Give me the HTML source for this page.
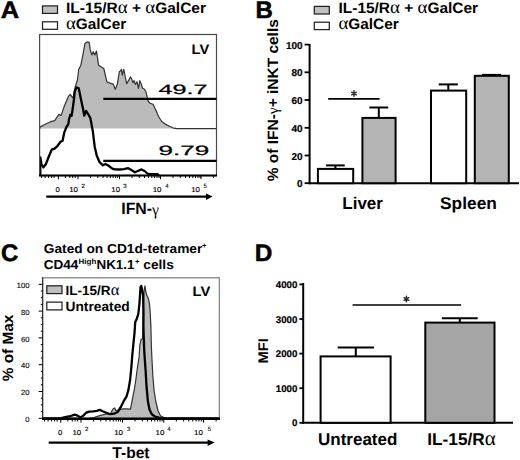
<!DOCTYPE html>
<html><head><meta charset="utf-8"><style>
html,body{margin:0;padding:0;background:#fff;width:520px;height:460px;overflow:hidden}
svg{display:block}
text{font-family:"Liberation Sans", sans-serif;fill:#000;text-rendering:geometricPrecision}
.big{font-size:24px;font-weight:bold;stroke:#000;stroke-width:0.5}
.leg{font-size:15px;font-weight:bold}
.legc{font-size:13.4px;font-weight:bold}
.gr{font-family:"Liberation Serif", serif;font-weight:normal}
.ga{font-family:"Liberation Serif", serif;font-weight:normal;font-size:1.22em}
.lv{font-size:14px;font-weight:bold}
.num{font-size:13.6px;font-weight:normal;stroke:#000;stroke-width:0.25}
.tk{font-size:7px;fill:#000;stroke:#000;stroke-width:0.15}
.tks{font-size:6px;fill:#000;stroke:#000;stroke-width:0.1}
.ax{font-size:16.5px;font-weight:bold}
.ytk{font-size:10px;font-weight:bold;stroke:#000;stroke-width:0.2}
.ytkd{font-size:9.8px;font-weight:bold;stroke:#000;stroke-width:0.2}
.ytkc{font-size:7.6px;fill:#111;stroke:#111;stroke-width:0.15}
.star{font-size:17px}
.cat{font-size:17px;font-weight:bold}
.ylab{font-size:15px;font-weight:bold}
.ylabc{font-size:15px;font-weight:bold}
.mfi{font-size:14px;font-weight:bold}
.ttl{font-size:13px;font-weight:bold}
.sup{font-size:7.5px;font-weight:bold}
</style></head><body>
<svg width="520" height="460" viewBox="0 0 520 460">
<rect width="520" height="460" fill="#fff"/>
<text x="0.8" y="18.4" class="big" textLength="18.4" lengthAdjust="spacingAndGlyphs">A</text>
<rect x="42.5" y="5.9" width="15" height="7.5" fill="#c0c0c0" stroke="#222" stroke-width="1.25"/>
<rect x="42.5" y="21.8" width="15" height="7.5" fill="#fff" stroke="#222" stroke-width="1.25"/>
<text x="66" y="13.2" class="leg" textLength="140" lengthAdjust="spacingAndGlyphs">IL-15/R<tspan class="ga">α</tspan> + <tspan class="ga">α</tspan>GalCer</text>
<text x="66" y="29.2" class="leg" textLength="60.3" lengthAdjust="spacingAndGlyphs"><tspan class="ga">α</tspan>GalCer</text>
<polygon points="39.8,128.6 40.1,126.9 44.3,124.8 50.5,121.7 54.7,120.7 58.9,114.4 61.0,115.4 61.7,113.9 64.3,106.1 66.5,100.9 68.7,96.1 70.3,94.3 71.7,96.5 73.0,97.8 75.2,87.0 77.4,80.0 78.7,69.5 80.8,65.3 82.9,54.9 85.0,43.4 87.1,41.9 89.2,42.4 90.2,49.7 91.9,54.9 93.3,51.7 94.8,54.9 96.5,51.1 98.6,65.3 100.6,66.4 103.8,68.5 106.9,82.0 110.0,83.1 113.2,84.1 115.3,89.3 117.3,84.1 119.4,71.6 120.0,71.3 121.5,69.4 122.3,75.1 123.8,69.4 125.3,77.0 126.6,83.6 128.5,80.7 130.4,77.0 131.7,78.8 132.8,82.6 134.1,80.7 135.5,84.5 137.0,81.7 138.5,88.3 139.8,80.7 141.1,83.6 142.6,88.3 144.5,89.2 146.0,92.0 147.3,97.7 148.3,101.5 150.2,103.3 153.0,104.3 155.8,110.0 158.6,116.5 161.5,121.3 165.2,124.1 169.0,126.0 172.8,127.8 176.5,128.6 216.0,128.6" fill="#bbbbbb" stroke="none"/>
<polyline points="39.8,128.6 40.1,126.9 44.3,124.8 50.5,121.7 54.7,120.7 58.9,114.4 61.0,115.4 61.7,113.9 64.3,106.1 66.5,100.9 68.7,96.1 70.3,94.3 71.7,96.5 73.0,97.8 75.2,87.0 77.4,80.0 78.7,69.5 80.8,65.3 82.9,54.9 85.0,43.4 87.1,41.9 89.2,42.4 90.2,49.7 91.9,54.9 93.3,51.7 94.8,54.9 96.5,51.1 98.6,65.3 100.6,66.4 103.8,68.5 106.9,82.0 110.0,83.1 113.2,84.1 115.3,89.3 117.3,84.1 119.4,71.6 120.0,71.3 121.5,69.4 122.3,75.1 123.8,69.4 125.3,77.0 126.6,83.6 128.5,80.7 130.4,77.0 131.7,78.8 132.8,82.6 134.1,80.7 135.5,84.5 137.0,81.7 138.5,88.3 139.8,80.7 141.1,83.6 142.6,88.3 144.5,89.2 146.0,92.0 147.3,97.7 148.3,101.5 150.2,103.3 153.0,104.3 155.8,110.0 158.6,116.5 161.5,121.3 165.2,124.1 169.0,126.0 172.8,127.8 176.5,128.6 216.0,128.6" fill="none" stroke="#333" stroke-width="1.2" stroke-linejoin="round"/>
<polyline points="40.3,175.0 40.3,157.5 41.5,164.3 43.5,167.3 45.8,164.3 48.8,156.5 51.7,149.7 54.6,148.7 57.6,145.8 60.5,141.8 62.5,140.9 64.4,132.1 66.4,127.2 68.3,124.2 69.1,119.0 70.4,114.8 71.7,115.7 73.9,100.0 74.8,91.3 76.5,87.4 78.7,88.3 80.9,99.1 83.0,108.7 84.3,115.7 86.1,110.9 88.3,114.3 90.4,118.3 92.8,131.1 94.7,146.7 96.7,155.5 99.6,162.2 102.9,165.3 105.4,163.9 108.3,165.5 112.3,168.6 114.6,169.3 119.2,169.5 123.8,169.1 128.2,168.2 131.5,170.1 134.9,172.3 137.8,171.0 141.6,169.4 144.5,171.0 147.4,173.5 149.8,174.2 157.5,174.2 159.0,175.0" fill="none" stroke="#000" stroke-width="2.3" stroke-linejoin="round"/>
<rect x="39.6" y="34.5" width="176.9" height="141" fill="none" stroke="#4a4a4a" stroke-width="1.2"/>
<line x1="39" y1="175.4" x2="217" y2="175.4" stroke="#000" stroke-width="2"/>
<line x1="103.3" y1="98.9" x2="216.5" y2="98.9" stroke="#000" stroke-width="2.3"/>
<line x1="103.3" y1="160.9" x2="216.5" y2="160.9" stroke="#000" stroke-width="2.3"/>
<text x="158.6" y="93.6" class="num" textLength="49" lengthAdjust="spacingAndGlyphs">49.7</text>
<text x="158.6" y="154.8" class="num" textLength="50.6" lengthAdjust="spacingAndGlyphs">9.79</text>
<text x="191.6" y="54.3" class="lv" textLength="17.6" lengthAdjust="spacingAndGlyphs">LV</text>
<path d="M78.0,176v3.2M119.5,176v3.2M160.5,176v3.2M201.0,176v3.2M58.4,176v3.2M90.5,176v2M97.8,176v2M103.0,176v2M107.0,176v2M110.3,176v2M113.1,176v2M115.5,176v2M117.6,176v2M132.0,176v2M139.3,176v2M144.5,176v2M148.5,176v2M151.8,176v2M154.6,176v2M157.0,176v2M159.1,176v2M173.0,176v2M180.3,176v2M185.5,176v2M189.5,176v2M192.8,176v2M195.6,176v2M198.0,176v2M200.1,176v2M213.5,176v2M41.6,176v2M45.1,176v2M48.6,176v2M51.6,176v2M54.1,176v2M65.4,176v2M69.9,176v2M72.7,176v2M75.2,176v2" stroke="#000" stroke-width="1" fill="none"/>
<text x="55.6" y="191.6" class="tk" textLength="4.3" lengthAdjust="spacingAndGlyphs">0</text><text x="69.2" y="191.6" class="tk" textLength="8.8" lengthAdjust="spacingAndGlyphs">10</text><text x="81.4" y="187.8" class="tks">2</text><text x="111.3" y="191.6" class="tk" textLength="8.8" lengthAdjust="spacingAndGlyphs">10</text><text x="123.3" y="187.8" class="tks">3</text><text x="152.7" y="191.6" class="tk" textLength="8.8" lengthAdjust="spacingAndGlyphs">10</text><text x="165.2" y="187.8" class="tks">4</text><text x="191.2" y="191.6" class="tk" textLength="8.8" lengthAdjust="spacingAndGlyphs">10</text><text x="203.4" y="187.8" class="tks">5</text>
<line x1="46.2" y1="196.6" x2="207" y2="196.6" stroke="#000" stroke-width="2.3"/>
<polygon points="206,193.4 212.6,196.6 206,199.9" fill="#000"/>
<text x="121.3" y="214.3" class="ax" textLength="37.8" lengthAdjust="spacingAndGlyphs">IFN-<tspan class="gr" dy="0.8">γ</tspan></text>
<text x="255.5" y="18.4" class="big">B</text>
<rect x="314.3" y="6.4" width="15" height="7.6" fill="#c0c0c0" stroke="#222" stroke-width="1.25"/>
<rect x="314.3" y="22.2" width="15" height="7.4" fill="#fff" stroke="#222" stroke-width="1.25"/>
<text x="338.5" y="13.2" class="leg" textLength="139.6" lengthAdjust="spacingAndGlyphs">IL-15/R<tspan class="ga">α</tspan> + <tspan class="ga">α</tspan>GalCer</text>
<text x="338.5" y="28.6" class="leg" textLength="60.3" lengthAdjust="spacingAndGlyphs"><tspan class="ga">α</tspan>GalCer</text>
<line x1="309.6" y1="44" x2="309.6" y2="184.2" stroke="#000" stroke-width="2"/>
<line x1="308.6" y1="183.2" x2="519" y2="183.2" stroke="#000" stroke-width="2"/>
<line x1="304.6" y1="183.2" x2="309.6" y2="183.2" stroke="#000" stroke-width="1.8"/>
<text x="302.6" y="187.3" class="ytk" text-anchor="end">0</text>
<line x1="304.6" y1="155.5" x2="309.6" y2="155.5" stroke="#000" stroke-width="1.8"/>
<text x="302.6" y="159.6" class="ytk" text-anchor="end">20</text>
<line x1="304.6" y1="127.8" x2="309.6" y2="127.8" stroke="#000" stroke-width="1.8"/>
<text x="302.6" y="131.9" class="ytk" text-anchor="end">40</text>
<line x1="304.6" y1="100.0" x2="309.6" y2="100.0" stroke="#000" stroke-width="1.8"/>
<text x="302.6" y="104.1" class="ytk" text-anchor="end">60</text>
<line x1="304.6" y1="72.3" x2="309.6" y2="72.3" stroke="#000" stroke-width="1.8"/>
<text x="302.6" y="76.4" class="ytk" text-anchor="end">80</text>
<line x1="304.6" y1="44.6" x2="309.6" y2="44.6" stroke="#000" stroke-width="1.8"/>
<text x="302.6" y="48.7" class="ytk" text-anchor="end">100</text>
<line x1="335.4" y1="168.7" x2="335.4" y2="165.4" stroke="#000" stroke-width="2"/><line x1="326.04999999999995" y1="165.4" x2="344.75" y2="165.4" stroke="#000" stroke-width="2"/>
<line x1="378.8" y1="117.8" x2="378.8" y2="107.5" stroke="#000" stroke-width="2"/><line x1="369.35" y1="107.5" x2="388.25" y2="107.5" stroke="#000" stroke-width="2"/>
<line x1="448.3" y1="90.5" x2="448.3" y2="84.4" stroke="#000" stroke-width="2"/><line x1="438.75" y1="84.4" x2="457.85" y2="84.4" stroke="#000" stroke-width="2"/>
<line x1="491.6" y1="75.8" x2="491.6" y2="74.9" stroke="#000" stroke-width="2"/><line x1="482.1" y1="74.9" x2="501.1" y2="74.9" stroke="#000" stroke-width="2"/>
<rect x="317.9" y="168.9" width="35.30000000000001" height="14.299999999999983" fill="#fff" stroke="#000" stroke-width="2"/>
<rect x="362.4" y="117.9" width="33.200000000000045" height="65.29999999999998" fill="#b4b4b4" stroke="#000" stroke-width="2"/>
<rect x="431" y="90.6" width="35.19999999999999" height="92.6" fill="#fff" stroke="#000" stroke-width="2"/>
<rect x="474.8" y="75.8" width="34.0" height="107.39999999999999" fill="#b4b4b4" stroke="#000" stroke-width="2"/>
<line x1="328.2" y1="98.9" x2="379.6" y2="98.9" stroke="#000" stroke-width="1.6"/>
<path d="M354.00,90.80L354.00,96.20M351.66,92.15L356.34,94.85M356.34,92.15L351.66,94.85" stroke="#2a2a2a" stroke-width="1.45" stroke-linecap="round"/>
<text x="342.3" y="209" class="cat">Liver</text>
<text x="440" y="209.2" class="cat" textLength="56.9" lengthAdjust="spacingAndGlyphs">Spleen</text>
<text transform="translate(277.9,181.2) rotate(-90)" class="ylab" textLength="162" lengthAdjust="spacingAndGlyphs">% of IFN-<tspan class="gr">γ</tspan>+ iNKT cells</text>
<text x="1" y="260.8" class="big">C</text>
<text x="43.8" y="252.6" class="ttl" textLength="158.5" lengthAdjust="spacingAndGlyphs">Gated on CD1d-tetramer</text><text x="202" y="248" class="sup">+</text>
<text x="43.8" y="268.8" class="ttl" textLength="34.6" lengthAdjust="spacingAndGlyphs">CD44</text><text x="78.5" y="264" class="sup" textLength="17.8" lengthAdjust="spacingAndGlyphs">High</text><text x="96.5" y="268.8" class="ttl" textLength="38" lengthAdjust="spacingAndGlyphs">NK1.1</text><text x="135" y="264" class="sup">+</text><text x="143.3" y="268.8" class="ttl" textLength="30.5" lengthAdjust="spacingAndGlyphs">cells</text>
<polygon points="42.5,418.4 85.0,418.4 88.2,418.6 93.9,417.5 99.7,415.6 105.5,414.2 110.3,413.7 113.2,408.8 114.7,407.9 116.0,410.8 118.9,409.8 122.8,408.8 126.6,408.8 130.5,409.2 132.4,399.2 134.3,389.6 135.8,380.0 137.4,367.8 139.1,357.0 139.8,345.6 141.0,339.5 142.6,338.5 143.0,326.0 143.3,310.0 143.6,298.0 144.3,290.0 144.9,285.8 145.7,290.7 146.6,295.0 147.4,296.5 147.9,297.2 148.8,300.3 149.6,305.0 150.2,313.0 150.9,326.0 151.3,345.0 152.0,360.0 152.8,375.0 154.0,390.0 155.8,401.5 158.1,411.0 160.5,415.7 163.7,417.6 166.0,418.4 219.0,418.4" fill="#bbbbbb" stroke="none"/>
<polyline points="42.5,418.4 85.0,418.4 88.2,418.6 93.9,417.5 99.7,415.6 105.5,414.2 110.3,413.7 113.2,408.8 114.7,407.9 116.0,410.8 118.9,409.8 122.8,408.8 126.6,408.8 130.5,409.2 132.4,399.2 134.3,389.6 135.8,380.0 137.4,367.8 139.1,357.0 139.8,345.6 141.0,339.5 142.6,338.5 143.0,326.0 143.3,310.0 143.6,298.0 144.3,290.0 144.9,285.8 145.7,290.7 146.6,295.0 147.4,296.5 147.9,297.2 148.8,300.3 149.6,305.0 150.2,313.0 150.9,326.0 151.3,345.0 152.0,360.0 152.8,375.0 154.0,390.0 155.8,401.5 158.1,411.0 160.5,415.7 163.7,417.6 166.0,418.4 219.0,418.4" fill="none" stroke="#333" stroke-width="1.2" stroke-linejoin="round"/>
<polyline points="43.0,418.4 53.5,418.4 61.2,418.1 65.1,417.1 68.9,416.5 71.8,415.6 74.7,414.6 77.6,415.6 80.5,417.5 83.3,415.6 86.2,412.7 89.1,411.7 93.0,411.3 96.8,410.8 99.7,409.8 102.6,411.2 106.4,412.7 110.3,414.2 114.1,413.7 118.0,411.7 120.8,406.9 123.7,401.2 126.6,396.3 128.5,389.6 130.1,380.0 131.3,368.0 132.3,355.0 133.3,345.0 134.5,333.0 135.2,322.2 136.5,319.6 138.3,314.0 139.5,303.0 140.1,294.0 140.5,287.5 141.2,285.9 142.2,290.0 143.1,295.0 143.3,303.0 143.5,313.0 143.4,326.0 143.8,339.0 144.3,352.0 145.0,362.0 145.7,372.0 146.5,386.0 147.9,401.5 149.5,409.4 151.8,414.2 155.0,416.5 158.9,417.6 163.7,418.3 219.0,418.3" fill="none" stroke="#000" stroke-width="2.3" stroke-linejoin="round"/>
<rect x="42.6" y="277.8" width="176.8" height="140.7" fill="none" stroke="#858585" stroke-width="1.3"/>
<line x1="42.6" y1="277.2" x2="42.6" y2="419" stroke="#333" stroke-width="1.2"/>
<line x1="42" y1="418.7" x2="220" y2="418.7" stroke="#000" stroke-width="2.4"/>
<path d="M38.7,284.3H42.6M40.8,291.0H42.6M40.8,297.7H42.6M40.8,304.4H42.6M38.7,311.1H42.6M40.8,317.8H42.6M40.8,324.5H42.6M40.8,331.2H42.6M38.7,337.9H42.6M40.8,344.6H42.6M40.8,351.3H42.6M40.8,358.0H42.6M38.7,364.7H42.6M40.8,371.4H42.6M40.8,378.1H42.6M40.8,384.8H42.6M38.7,391.5H42.6M40.8,398.2H42.6M40.8,404.9H42.6M40.8,411.6H42.6M38.7,418.3H42.6" stroke="#000" stroke-width="1"/>
<text x="29.5" y="288.0" class="ytkc" text-anchor="end">100</text>
<text x="29.5" y="314.8" class="ytkc" text-anchor="end">80</text>
<text x="29.5" y="341.6" class="ytkc" text-anchor="end">60</text>
<text x="29.5" y="368.4" class="ytkc" text-anchor="end">40</text>
<text x="29.5" y="395.2" class="ytkc" text-anchor="end">20</text>
<text x="29.5" y="422.0" class="ytkc" text-anchor="end">0</text>
<text transform="translate(13.2,381.2) rotate(-90)" class="ylabc" textLength="66.5" lengthAdjust="spacingAndGlyphs">% of Max</text>
<rect x="46.8" y="285.8" width="15.2" height="7.8" fill="#c0c0c0" stroke="#222" stroke-width="1.25"/>
<rect x="46.8" y="302.1" width="15.2" height="7.8" fill="#fff" stroke="#222" stroke-width="1.25"/>
<text x="65.5" y="295.2" class="legc" textLength="53.8" lengthAdjust="spacingAndGlyphs">IL-15/R<tspan class="ga">α</tspan></text>
<text x="65.5" y="311.2" class="legc" textLength="64.2" lengthAdjust="spacingAndGlyphs">Untreated</text>
<text x="192.6" y="295.8" class="lv" textLength="17.7" lengthAdjust="spacingAndGlyphs">LV</text>
<path d="M81.0,419.5v3.2M122.5,419.5v3.2M163.8,419.5v3.2M203.6,419.5v3.2M60.8,419.5v3.2M93.5,419.5v2M100.8,419.5v2M106.0,419.5v2M110.0,419.5v2M113.3,419.5v2M116.1,419.5v2M118.5,419.5v2M120.6,419.5v2M135.0,419.5v2M142.3,419.5v2M147.5,419.5v2M151.5,419.5v2M154.8,419.5v2M157.6,419.5v2M160.0,419.5v2M162.1,419.5v2M176.3,419.5v2M183.6,419.5v2M188.8,419.5v2M192.8,419.5v2M196.1,419.5v2M198.9,419.5v2M201.3,419.5v2M203.4,419.5v2M216.1,419.5v2M44.6,419.5v2M48.1,419.5v2M51.6,419.5v2M54.6,419.5v2M57.1,419.5v2M67.8,419.5v2M72.3,419.5v2M75.1,419.5v2M77.6,419.5v2" stroke="#000" stroke-width="1" fill="none"/>
<text x="58.0" y="434.6" class="tk" textLength="4.3" lengthAdjust="spacingAndGlyphs">0</text><text x="72.4" y="434.6" class="tk" textLength="8.8" lengthAdjust="spacingAndGlyphs">10</text><text x="84.9" y="431.3" class="tks">2</text><text x="114.2" y="434.6" class="tk" textLength="8.8" lengthAdjust="spacingAndGlyphs">10</text><text x="127.0" y="431.3" class="tks">3</text><text x="155.6" y="434.6" class="tk" textLength="8.8" lengthAdjust="spacingAndGlyphs">10</text><text x="167.3" y="431.3" class="tks">4</text><text x="194.0" y="434.6" class="tk" textLength="8.8" lengthAdjust="spacingAndGlyphs">10</text><text x="207.8" y="431.3" class="tks">5</text>
<line x1="48.7" y1="442.6" x2="209" y2="442.6" stroke="#000" stroke-width="2.3"/>
<polygon points="207.6,439.4 214.6,442.6 207.6,445.9" fill="#000"/>
<text x="112.3" y="457.5" class="ax" style="font-size:15.6px">T-bet</text>
<text x="254.8" y="261.1" class="big" textLength="17.6" lengthAdjust="spacingAndGlyphs">D</text>
<line x1="303.2" y1="283" x2="303.2" y2="423.7" stroke="#000" stroke-width="2"/>
<line x1="302.2" y1="422.8" x2="513" y2="422.8" stroke="#000" stroke-width="2"/>
<line x1="299.4" y1="422.8" x2="303.2" y2="422.8" stroke="#000" stroke-width="1.8"/>
<text x="297.4" y="426.3" class="ytkd" text-anchor="end" textLength="5.4" lengthAdjust="spacingAndGlyphs">0</text>
<line x1="299.4" y1="388.2" x2="303.2" y2="388.2" stroke="#000" stroke-width="1.8"/>
<text x="297.4" y="391.7" class="ytkd" text-anchor="end" textLength="21.6" lengthAdjust="spacingAndGlyphs">1000</text>
<line x1="299.4" y1="353.6" x2="303.2" y2="353.6" stroke="#000" stroke-width="1.8"/>
<text x="297.4" y="357.1" class="ytkd" text-anchor="end" textLength="21.6" lengthAdjust="spacingAndGlyphs">2000</text>
<line x1="299.4" y1="319.0" x2="303.2" y2="319.0" stroke="#000" stroke-width="1.8"/>
<text x="297.4" y="322.5" class="ytkd" text-anchor="end" textLength="21.6" lengthAdjust="spacingAndGlyphs">3000</text>
<line x1="299.4" y1="284.4" x2="303.2" y2="284.4" stroke="#000" stroke-width="1.8"/>
<text x="297.4" y="287.9" class="ytkd" text-anchor="end" textLength="21.6" lengthAdjust="spacingAndGlyphs">4000</text>
<line x1="355.8" y1="356.3" x2="355.8" y2="347.6" stroke="#000" stroke-width="2"/><line x1="337.65000000000003" y1="347.6" x2="373.95" y2="347.6" stroke="#000" stroke-width="2"/>
<line x1="459.8" y1="322.5" x2="459.8" y2="318.3" stroke="#000" stroke-width="2"/><line x1="441.90000000000003" y1="318.3" x2="477.7" y2="318.3" stroke="#000" stroke-width="2"/>
<rect x="320.6" y="356.4" width="70.0" height="66.40000000000003" fill="#fff" stroke="#000" stroke-width="2"/>
<rect x="425.3" y="322.6" width="69.19999999999999" height="100.19999999999999" fill="#a5a5a5" stroke="#000" stroke-width="2"/>
<line x1="352.6" y1="305" x2="461" y2="305" stroke="#000" stroke-width="1.6"/>
<path d="M406.40,296.30L406.40,301.70M404.06,297.65L408.74,300.35M408.74,297.65L404.06,300.35" stroke="#2a2a2a" stroke-width="1.45" stroke-linecap="round"/>
<text x="318" y="445.1" class="cat">Untreated</text>
<text x="427.3" y="444.9" class="cat" textLength="68.5" lengthAdjust="spacingAndGlyphs">IL-15/R<tspan class="ga">α</tspan></text>
<text transform="translate(268,363.6) rotate(-90)" class="mfi" textLength="25.4" lengthAdjust="spacingAndGlyphs">MFI</text>
</svg>
</body></html>
